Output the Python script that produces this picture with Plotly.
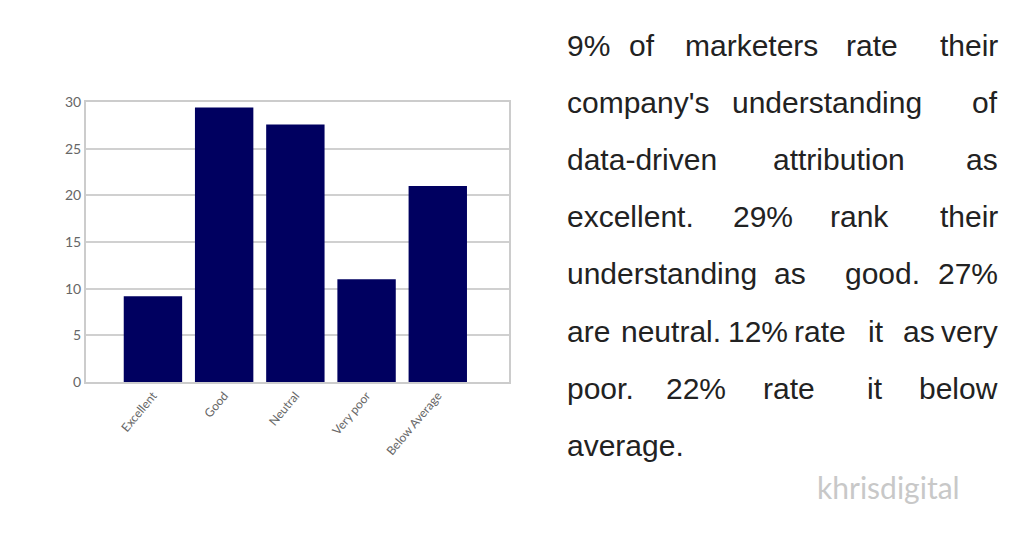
import plotly.graph_objects as go

categories = ['Excellent', 'Good', 'Neutral', 'Very poor', 'Below Average']
values = [9.2, 29.4, 27.6, 11.0, 21.0]
text_lines = [
    "9% of marketers rate their",
    "company's understanding of",
    "data-driven attribution as",
    "excellent. 29% rank their",
    "understanding as good. 27%",
    "are neutral. 12% rate it as very",
    "poor. 22% rate it below",
    "average.",
]

W, H = 1025, 537
OFF = 8  # page offset seen in the rendered shot
L, R, T, B = 86 - OFF, 509 - OFF, 102 - OFF, 382 - OFF

def px(x):
    return (x - OFF - L) / (R - L)

def py(y):
    return (B - (y - OFF)) / (B - T)

fig = go.Figure()
fig.add_trace(go.Bar(x=list(range(len(categories))), y=values, width=0.82,
                     marker=dict(color='#000060', line=dict(width=0))))

FS = 30
CW = 12.6  # rough width per character
X0, X1 = 565, 1000
anns = []
font = dict(family='Liberation Sans, Arial', size=FS, color='#222222')
for i, line in enumerate(text_lines):
    y = py(45 + i * 57.2)
    words = line.split(' ')
    if i == len(text_lines) - 1 or len(words) < 2:
        anns.append(dict(text=line, x=px(X0), y=y, xref='paper', yref='paper', xanchor='left',
                         yanchor='middle', showarrow=False, font=font))
        continue
    widths = [len(w) * CW for w in words]
    gap = (X1 - X0 - sum(widths)) / (len(words) - 1)
    pos = X0
    for j, w in enumerate(words):
        if j == 0:
            x, anchor = X0, 'left'
        elif j == len(words) - 1:
            x, anchor = X1, 'right'
        else:
            x, anchor = pos + widths[j] / 2, 'center'
        anns.append(dict(text=w, x=px(x), y=y, xref='paper', yref='paper', xanchor=anchor,
                         yanchor='middle', showarrow=False, font=font))
        pos += widths[j] + gap
anns.append(dict(text='khrisdigital', x=px(888), y=py(487), xref='paper', yref='paper',
                 xanchor='center', yanchor='middle', showarrow=False,
                 font=dict(family='Lato', size=30, color='#c8c8c8')))

fig.update_layout(
    width=W, height=H, margin=dict(l=L, r=W - R, t=T, b=H - B),
    paper_bgcolor='white', plot_bgcolor='white', showlegend=False,
    annotations=anns,
)
fig.update_xaxes(range=[-0.94, 5.0], tickvals=list(range(len(categories))), ticktext=categories,
                 tickangle=-50, tickfont=dict(family='Lato', size=12, color='#666666'),
                 showline=True, linecolor='#cccccc', linewidth=2, mirror=True, showgrid=False,
                 ticks='')
fig.update_yaxes(range=[0, 30], dtick=5, tickfont=dict(family='Lato', size=14, color='#666666'),
                 showline=True, linecolor='#cccccc', linewidth=2, mirror=True,
                 gridcolor='#d0d0d0', gridwidth=1.5, ticks='', zeroline=False)

fig.write_html("out.html")
